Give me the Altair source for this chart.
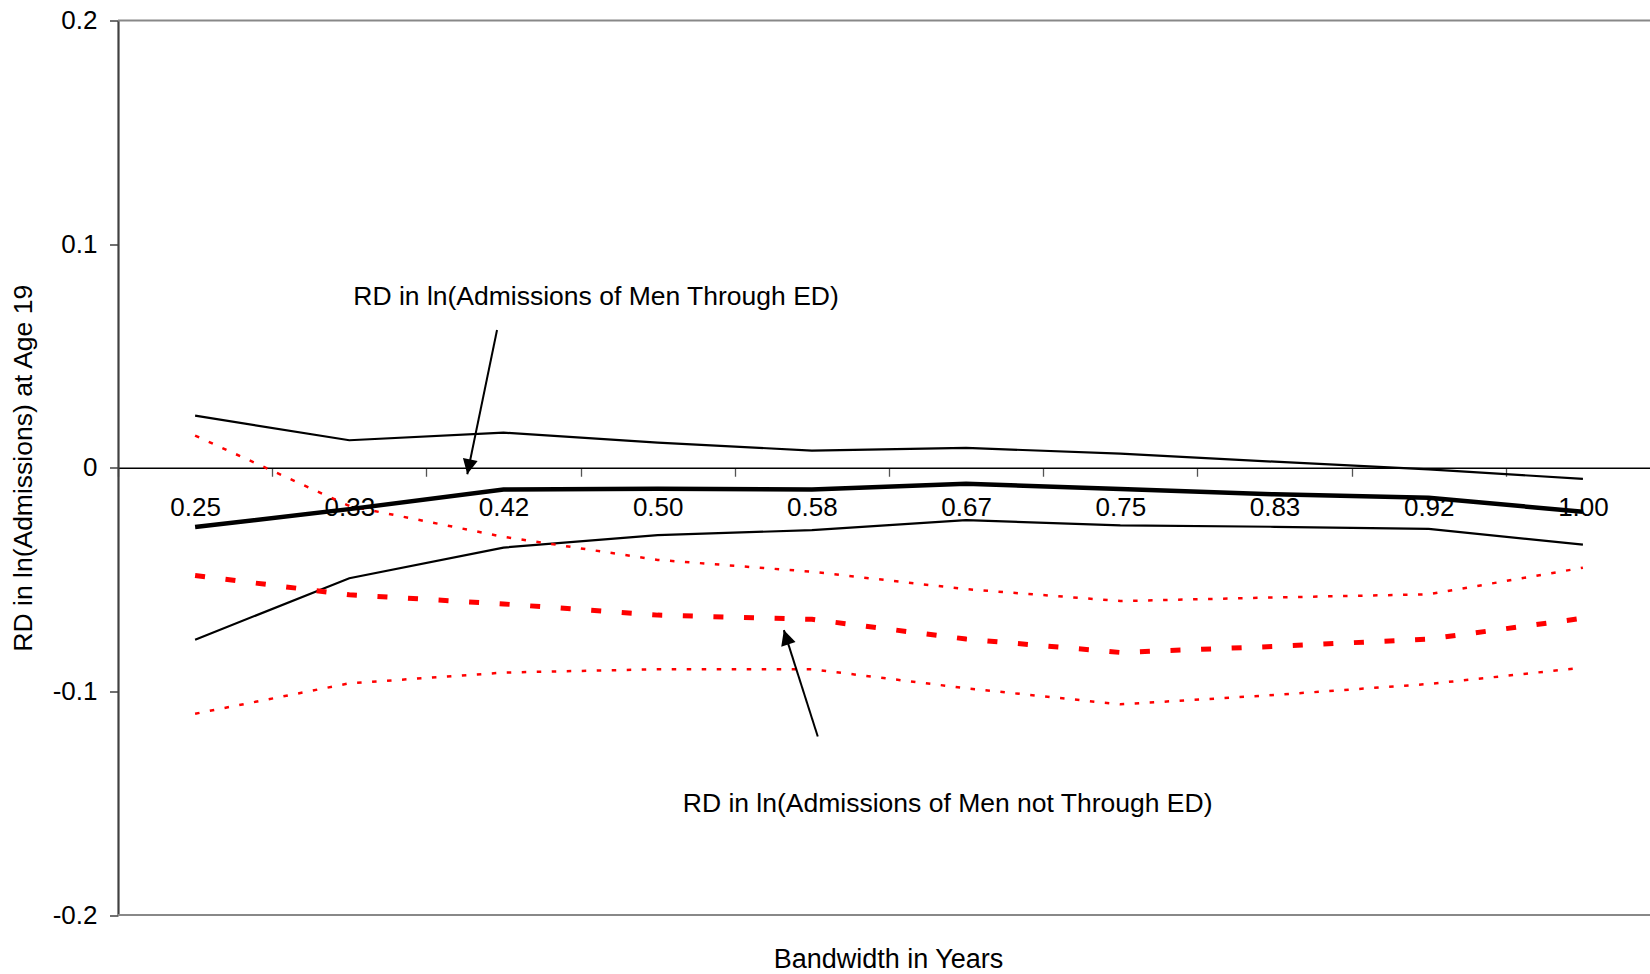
import json
import math

import altair as alt
import pandas as pd

# Bandwidths (in months) and their year labels on the horizontal axis
months = [3, 4, 5, 6, 7, 8, 9, 10, 11, 12]
bandwidth_labels = ["0.25", "0.33", "0.42", "0.50", "0.58", "0.67", "0.75", "0.83", "0.92", "1.00"]

# RD in ln(admissions of men through the ED): estimate and 95% band
ed_est = [-0.0265, -0.0185, -0.0097, -0.0094, -0.0097, -0.0072, -0.0095, -0.0119, -0.0134, -0.0197]
ed_upper = [0.0233, 0.0123, 0.0157, 0.0112, 0.0077, 0.0089, 0.0063, 0.0027, -0.0007, -0.0050]
ed_lower = [-0.0769, -0.0494, -0.0357, -0.0301, -0.0279, -0.0234, -0.0258, -0.0264, -0.0273, -0.0344]

# RD in ln(admissions of men not through the ED): estimate and 95% band
ned_est = [-0.0482, -0.0568, -0.0609, -0.0659, -0.0678, -0.0766, -0.0826, -0.0799, -0.0766, -0.0673]
ned_upper = [0.0144, -0.0171, -0.0309, -0.0412, -0.0465, -0.0543, -0.0596, -0.0580, -0.0566, -0.0447]
ned_lower = [-0.1100, -0.0964, -0.0916, -0.0901, -0.0901, -0.0986, -0.1058, -0.1016, -0.0967, -0.0894]

y_ticks = [-0.2, -0.1, 0.0, 0.1, 0.2]

# Callout labels and their arrows (months, rd)
note_text = ["RD in ln(Admissions of Men Through ED)", "RD in ln(Admissions of Men not Through ED)"]
note_month = [5.60, 7.88]
note_rd = [0.0763, -0.1503]
arrow_tail_month = [4.958, 7.038]
arrow_tail_rd = [0.0616, -0.1202]
arrow_tip_month = [4.765, 6.818]
arrow_tip_rd = [-0.0029, -0.0726]

FONT = "Liberation Sans"
W, H = 1532, 894.5
X_DOMAIN = [2.5, 12.435]
Y_DOMAIN = [-0.2, 0.2]
px_per_month = W / (X_DOMAIN[1] - X_DOMAIN[0])
px_per_unit = H / (Y_DOMAIN[1] - Y_DOMAIN[0])

series = {
    "ed_upper": ed_upper,
    "ed_est": ed_est,
    "ed_lower": ed_lower,
    "ned_upper": ned_upper,
    "ned_est": ned_est,
    "ned_lower": ned_lower,
}
lines_df = pd.DataFrame(
    [
        {"months": m, "rd": v, "series": name}
        for name, vals in series.items()
        for m, v in zip(months, vals)
    ]
)

x_axis = alt.Axis(
    orient="bottom",
    offset=-H / 2,
    values=[m - 0.5 for m in months],
    grid=False,
    domainColor="black",
    domainWidth=1.3,
    tickColor="#555555",
    tickWidth=1.3,
    tickSize=8.5,
    labelExpr=json.dumps(bandwidth_labels) + "[round(datum.value - 2.5)]",
    labelOffset=px_per_month / 2,
    labelPadding=18,
    labelFontSize=26,
    labelColor="black",
    labelFlush=False,
    labelOverlap=False,
    title="Bandwidth in Years",
    titleFontSize=27,
    titleFontWeight="normal",
    titleColor="black",
    titleBaseline="alphabetic",
    titleAlign="center",
    titleX=W / 2 + 4,
    titleY=500,
)

y_axis = alt.Axis(
    values=y_ticks,
    grid=False,
    domainColor="#404040",
    domainWidth=2.2,
    tickColor="#404040",
    tickWidth=1.5,
    tickSize=8.5,
    labelExpr="datum.value == 0 ? '0' : (datum.value < 0 ? '-' : '') + format(abs(datum.value), '.1f')",
    labelFontSize=26,
    labelColor="black",
    labelPadding=12.5,
    title="RD in ln(Admissions) at Age 19",
    titleFontSize=26.5,
    titleFontWeight="normal",
    titleColor="black",
    titleBaseline="alphabetic",
    titleX=-87,
)

x_scale = alt.Scale(domain=X_DOMAIN, nice=False, zero=False)
y_scale = alt.Scale(domain=Y_DOMAIN, nice=False, zero=False)


def xy(xf="months", yf="rd"):
    return dict(
        x=alt.X(f"{xf}:Q", scale=x_scale, axis=x_axis),
        y=alt.Y(f"{yf}:Q", scale=y_scale, axis=y_axis),
    )


# Top and bottom edges of the plot frame
frame = (
    alt.Chart(pd.DataFrame({"rd": [Y_DOMAIN[0], Y_DOMAIN[1]]}))
    .mark_rule(color="#888888", strokeWidth=2)
    .encode(y=alt.Y("rd:Q", scale=y_scale, axis=y_axis), x=alt.value(0), x2=alt.value(W))
)

styles = {
    "ed_upper": dict(color="black", strokeWidth=2.2),
    "ed_lower": dict(color="black", strokeWidth=2.2),
    "ned_upper": dict(color="#ff0000", strokeWidth=2.5, strokeDash=[4.5, 10.5]),
    "ned_lower": dict(color="#ff0000", strokeWidth=2.5, strokeDash=[4.5, 10.5]),
    "ned_est": dict(color="#ff0000", strokeWidth=5, strokeDash=[10, 20.6]),
    "ed_est": dict(color="black", strokeWidth=4.5),
}

line_layers = []
for name, st in styles.items():
    line_layers.append(
        alt.Chart(lines_df)
        .transform_filter(alt.datum.series == name)
        .mark_line(strokeCap="butt", strokeJoin="miter", **st)
        .encode(**xy())
    )

notes = (
    alt.Chart(pd.DataFrame({"text": note_text, "months": note_month, "rd": note_rd}))
    .mark_text(font=FONT, fontSize=26.5, color="black", align="center", baseline="middle")
    .encode(text="text:N", **xy())
)

angles = []
for tm, tr, hm, hr in zip(arrow_tail_month, arrow_tail_rd, arrow_tip_month, arrow_tip_rd):
    dx = (hm - tm) * px_per_month
    dy = -(hr - tr) * px_per_unit
    angles.append(math.degrees(math.atan2(-dx, dy)) % 360)

arrows_df = pd.DataFrame(
    {
        "months": arrow_tail_month,
        "rd": arrow_tail_rd,
        "months2": arrow_tip_month,
        "rd2": arrow_tip_rd,
        "angle": angles,
    }
)

arrow_shafts = (
    alt.Chart(arrows_df)
    .mark_rule(color="black", strokeWidth=2)
    .encode(x2="months2:Q", y2="rd2:Q", **xy())
)

arrow_heads = (
    alt.Chart(arrows_df)
    .mark_point(shape="M0,0L-0.5,-1L0.5,-1Z", filled=True, size=900, color="black", opacity=1)
    .encode(angle=alt.Angle("angle:Q", scale=None), **xy("months2", "rd2"))
)

chart = (
    alt.layer(frame, *line_layers, arrow_shafts, arrow_heads, notes)
    .properties(
        width=W,
        height=H,
        padding={"left": 118, "top": 20.5, "right": 0, "bottom": 59},
        autosize=alt.AutoSizeParams(type="none"),
        background="white",
    )
    .configure_view(stroke=None)
    .configure_axis(labelFont=FONT, titleFont=FONT)
    .configure_text(font=FONT)
)

chart.save("out.html", embed_options={"renderer": "svg", "actions": False})
